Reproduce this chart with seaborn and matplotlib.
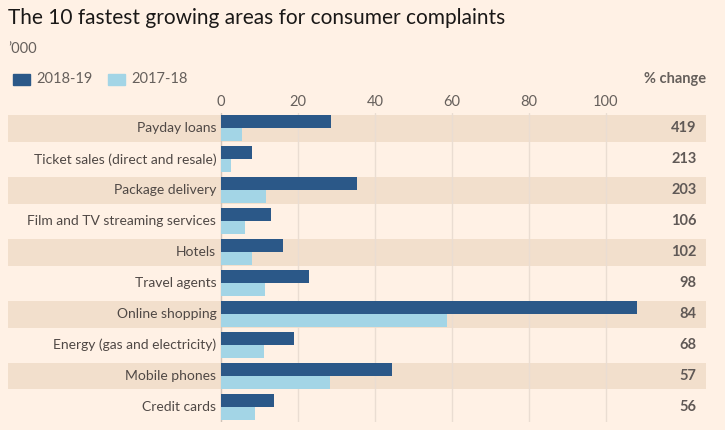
import matplotlib
matplotlib.use('Agg')
import matplotlib.pyplot as plt
import seaborn as sns
import pandas as pd

# 資料
areas = ['Payday loans', 'Ticket sales (direct and resale)', 'Package delivery',
         'Film and TV streaming services', 'Hotels', 'Travel agents',
         'Online shopping', 'Energy (gas and electricity)', 'Mobile phones',
         'Credit cards']
y2019 = [28.5, 8.1, 35.3, 12.9, 16.1, 22.9, 108.0, 19.0, 44.5, 13.8]
y2018 = [5.5, 2.5, 11.6, 6.2, 8.0, 11.4, 58.8, 11.2, 28.3, 8.8]
pct_change = [419, 213, 203, 106, 102, 98, 84, 68, 57, 56]
periods = ['2018-19', '2017-18']
xticks = [0, 20, 40, 60, 80, 100]

bg = '#FFF1E5'
band = '#F2DFCC'
dark = '#2B5888'
light = '#A3D5E6'
txt = '#4F4845'
grey = '#66605C'

df = pd.DataFrame({
    'area': areas * 2,
    'period': [periods[0]] * len(areas) + [periods[1]] * len(areas),
    'value': y2019 + y2018,
})

sns.set_style('white')
plt.rcParams['font.family'] = ['Lato', 'DejaVu Sans']

fig = plt.figure(figsize=(7.25, 4.3), dpi=100, facecolor=bg)
ax = fig.add_axes([8 / 725, 8 / 430, 698 / 725, 309 / 430])
ax.set_facecolor(bg)

# 交替底色
for i in range(0, len(areas), 2):
    ax.axhspan(i - 0.43, i + 0.43, color=band, zorder=0, lw=0)

sns.barplot(data=df, y='area', x='value', hue='period', orient='h',
            palette=[dark, light], width=0.84, ax=ax, legend=False,
            saturation=1, zorder=3, linewidth=0, edgecolor='none')

ax.set_xlim(-55.3, 126)
ax.set_ylim(9.48, -0.5)
ax.xaxis.tick_top()
ax.set_xticks(xticks)
ax.set_xticklabels([str(t) for t in xticks], color=grey, fontsize=10.5)
ax.tick_params(axis='x', length=0, pad=3)
ax.set_yticks([])
ax.set_xlabel('')
ax.set_ylabel('')
for s in ax.spines.values():
    s.set_visible(False)
for t in xticks:
    ax.axvline(t, color='#EADDD2' if t else '#CFC3B8', lw=1, zorder=1)

for i, name in enumerate(areas):
    ax.text(-1.2, i, name, ha='right', va='center', color=txt, fontsize=10)
    ax.text(123.5, i, str(pct_change[i]), ha='right', va='center',
            color='#605956', fontsize=10.5, fontweight='bold')

# 標題與圖例
fig.text(8 / 725, 1 - 18 / 430, 'The 10 fastest growing areas for consumer complaints',
         ha='left', va='center', fontsize=15, color='#1A1817')
fig.text(8 / 725, 1 - 49 / 430, '\u2019000', ha='left', va='center',
         fontsize=10.5, color=grey)
fig.patches.append(plt.Rectangle((13 / 725, 1 - 85 / 430), 17 / 725, 11 / 430,
                                 transform=fig.transFigure, color=dark, figure=fig))
fig.text(36 / 725, 1 - 79 / 430, periods[0], ha='left', va='center',
         fontsize=10.5, color=grey)
fig.patches.append(plt.Rectangle((108 / 725, 1 - 85 / 430), 17 / 725, 11 / 430,
                                 transform=fig.transFigure, color=light, figure=fig))
fig.text(131 / 725, 1 - 79 / 430, periods[1], ha='left', va='center',
         fontsize=10.5, color=grey)
fig.text(706 / 725, 1 - 79 / 430, '% change', ha='right', va='center',
         fontsize=10.5, color=grey, fontweight='bold')

fig.savefig('out.png', dpi=100, facecolor=bg)
